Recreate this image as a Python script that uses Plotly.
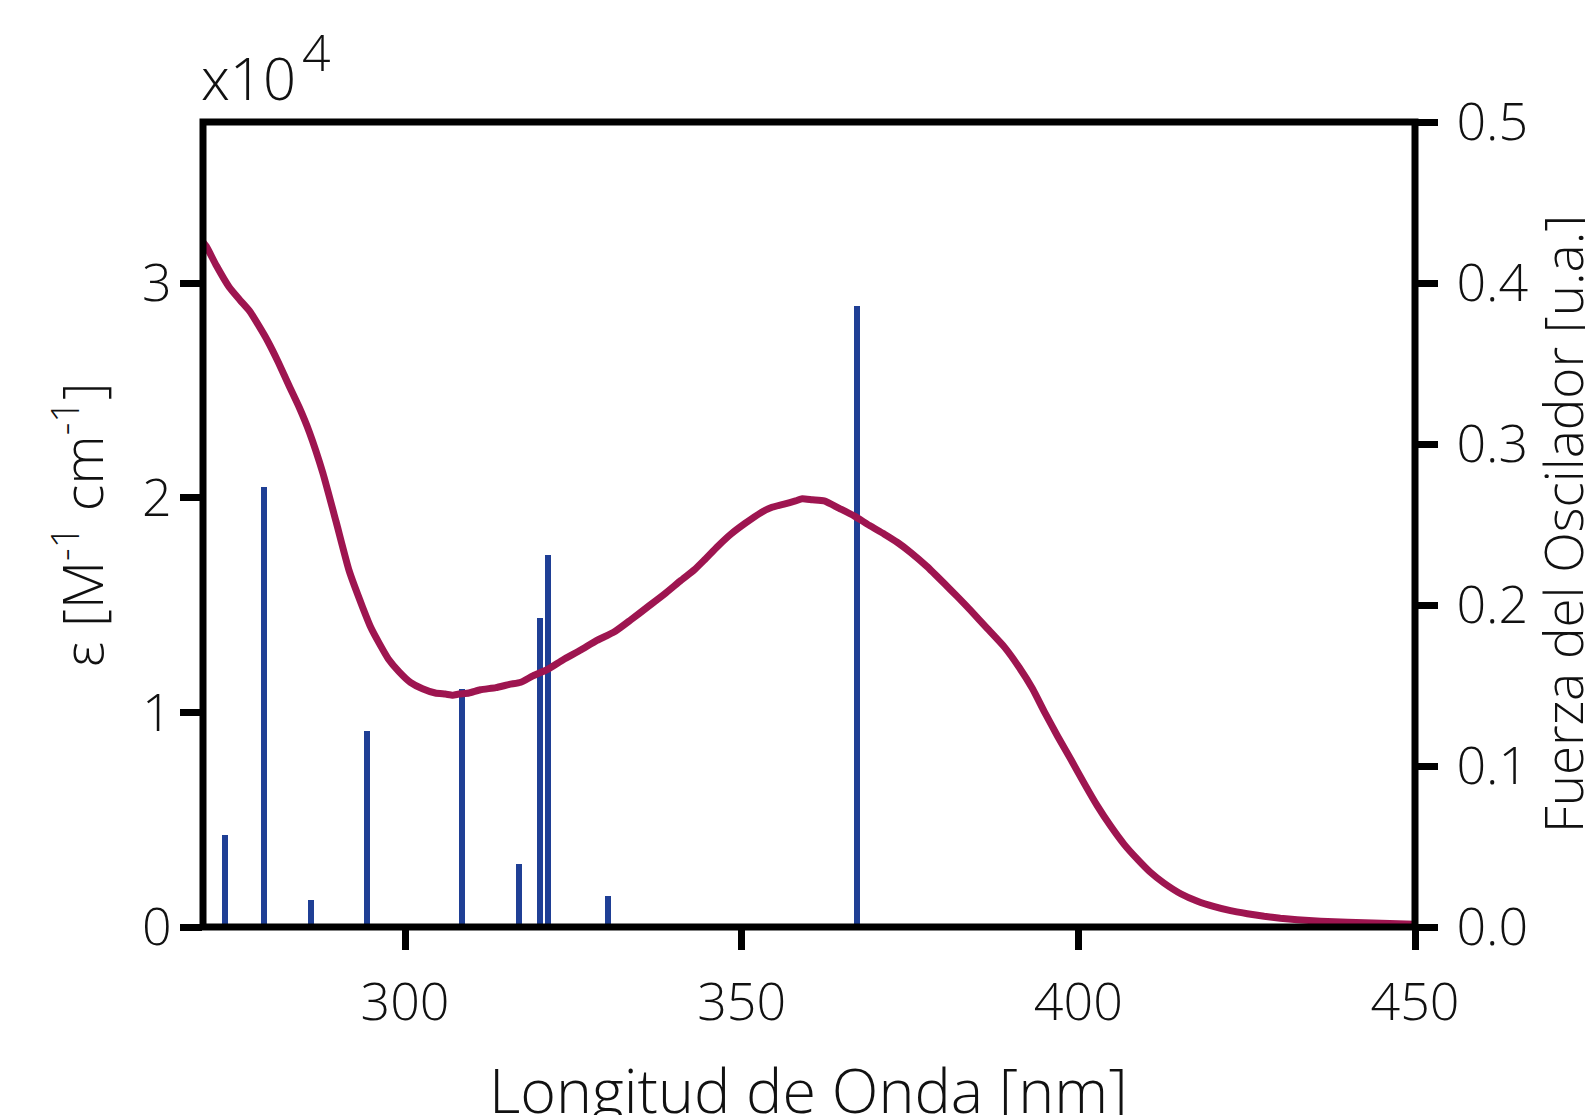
import plotly.graph_objects as go

# ---- data ----
wavelength_nm = [270.0, 270.5, 272.0, 273.9, 275.5, 276.9, 278.3, 279.6, 281.2, 282.8,
                 284.3, 285.8, 287.8, 289.75, 291.7, 293.7, 295.0, 296.2, 297.5, 299.1,
                 300.8, 302.6, 304.5, 306.0, 307.1, 308.0, 309.5, 311.2, 313.5, 315.5,
                 317.2, 319.0, 321.2, 323.5, 326.1, 328.5, 331.1, 333.5, 336.0, 338.5,
                 341.0, 343.0, 344.4, 346.5, 348.4, 350.5, 352.85, 354.5, 356.3, 358.0,
                 359.0, 360.5, 362.25, 364.5, 366.7, 369.0, 371.2, 373.2, 375.1, 377.5,
                 380.1, 382.0, 384.0, 386.5, 389.0, 391.2, 393.2, 395.0, 396.9, 398.9,
                 400.85, 402.8, 404.8, 406.8, 408.8, 410.7, 412.7, 415.2, 417.7, 420.2,
                 422.6, 425.1, 427.6, 430.0, 432.5, 436.0, 440.0, 445.0, 450.0]
epsilon_1e4 = [3.19, 3.17, 3.08, 2.98, 2.92, 2.87, 2.80, 2.73, 2.63, 2.52,
               2.42, 2.305, 2.115, 1.89, 1.66, 1.49, 1.39, 1.32, 1.25, 1.19,
               1.14, 1.11, 1.09, 1.085, 1.08, 1.085, 1.09, 1.105, 1.115, 1.13,
               1.14, 1.17, 1.20, 1.245, 1.29, 1.335, 1.375, 1.43, 1.49, 1.55,
               1.615, 1.665, 1.708, 1.775, 1.83, 1.88, 1.93, 1.955, 1.97, 1.985,
               1.995, 1.99, 1.985, 1.95, 1.915, 1.87, 1.83, 1.79, 1.745, 1.68,
               1.60, 1.54, 1.475, 1.39, 1.305, 1.21, 1.11, 1.00, 0.89, 0.78,
               0.67, 0.565, 0.47, 0.385, 0.315, 0.255, 0.205, 0.155, 0.12, 0.095,
               0.076, 0.062, 0.05, 0.041, 0.034, 0.027, 0.022, 0.017, 0.013]

transition_nm = [273.3, 279.0, 286.0, 294.35, 308.45, 316.96, 320.05, 321.3, 330.1, 367.15]
osc_strength = [0.057, 0.273, 0.017, 0.122, 0.148, 0.039, 0.192, 0.231, 0.019, 0.386]

x_ticks = [300, 350, 400, 450]
eps_ticks = [0, 1, 2, 3]
osc_ticks = [0.0, 0.1, 0.2, 0.3, 0.4, 0.5]

# ---- style ----
FONT = "Open Sans"
INK = "#111111"
CURVE = "#9E1550"
BAR = "#1F3F95"

W, H = 1585, 1115
L, R, T, B = 203, 1415, 122, 927


def px(xp):
    return (xp - L) / (R - L)


def py(yp):
    return (B - yp) / (B - T)


fig = go.Figure()
fig.add_trace(go.Bar(x=transition_nm, y=osc_strength, width=0.9,
                     marker=dict(color=BAR, line=dict(width=0)),
                     yaxis="y", showlegend=False))
fig.add_trace(go.Scatter(x=wavelength_nm, y=epsilon_1e4, mode="lines",
                         line=dict(color=CURVE, width=7, shape="spline", smoothing=0.5),
                         yaxis="y2", showlegend=False))

axis_common = dict(showline=False, ticks="outside",
                   ticklen=22, tickwidth=7, tickcolor="black", showgrid=False,
                   zeroline=False, automargin=False,
                   tickfont=dict(family=FONT, size=52, color=INK, weight=300))

fig.update_layout(
    template="none",
    width=W, height=H,
    margin=dict(l=L, r=W - R, t=T, b=H - B, autoexpand=False),
    paper_bgcolor="white", plot_bgcolor="white",
    xaxis=dict(range=[270, 450], tickvals=x_ticks,
               ticklabelstandoff=8, **axis_common),
    yaxis=dict(range=[0, 0.5], side="right", tickvals=osc_ticks, tickformat=".1f",
               ticklabelstandoff=8, **axis_common),
    yaxis2=dict(range=[0, 3.75], side="left", overlaying="y", tickvals=eps_ticks,
                ticklabelstandoff=-2, **axis_common),
    bargap=0,
)

# frame (spines) centred on the plot edges
fig.add_shape(type="rect", xref="paper", yref="paper", x0=0, x1=1, y0=0, y1=1,
              line=dict(color="black", width=7), fillcolor="rgba(0,0,0,0)", layer="above")

ann_font = dict(family=FONT, color=INK, weight=300)
fig.add_annotation(text="Longitud de Onda [nm]", x=px(808), y=py(1089),
                   xref="paper", yref="paper", xanchor="center", yanchor="middle",
                   showarrow=False, font=dict(size=61, **ann_font))
fig.add_annotation(text="ε [M<sup>-1</sup> cm<sup>-1</sup>]", x=px(78), y=py(525),
                   xref="paper", yref="paper", xanchor="center", yanchor="middle",
                   textangle=-90, showarrow=False, font=dict(size=56, **ann_font))
fig.add_annotation(text="Fuerza del Oscilador [u.a.]", x=px(1562), y=py(524),
                   xref="paper", yref="paper", xanchor="center", yanchor="middle",
                   textangle=-90, showarrow=False, font=dict(size=53, **ann_font))
fig.add_annotation(text="x10", x=px(199), y=py(77),
                   xref="paper", yref="paper", xanchor="left", yanchor="middle",
                   showarrow=False, font=dict(size=58, **ann_font))
fig.add_annotation(text="4", x=px(300), y=py(52),
                   xref="paper", yref="paper", xanchor="left", yanchor="middle",
                   showarrow=False, font=dict(size=50, **ann_font))

fig.write_html("out.html", config={"displayModeBar": False},
               post_script="document.body.style.margin='0';document.body.style.overflow='hidden';")
